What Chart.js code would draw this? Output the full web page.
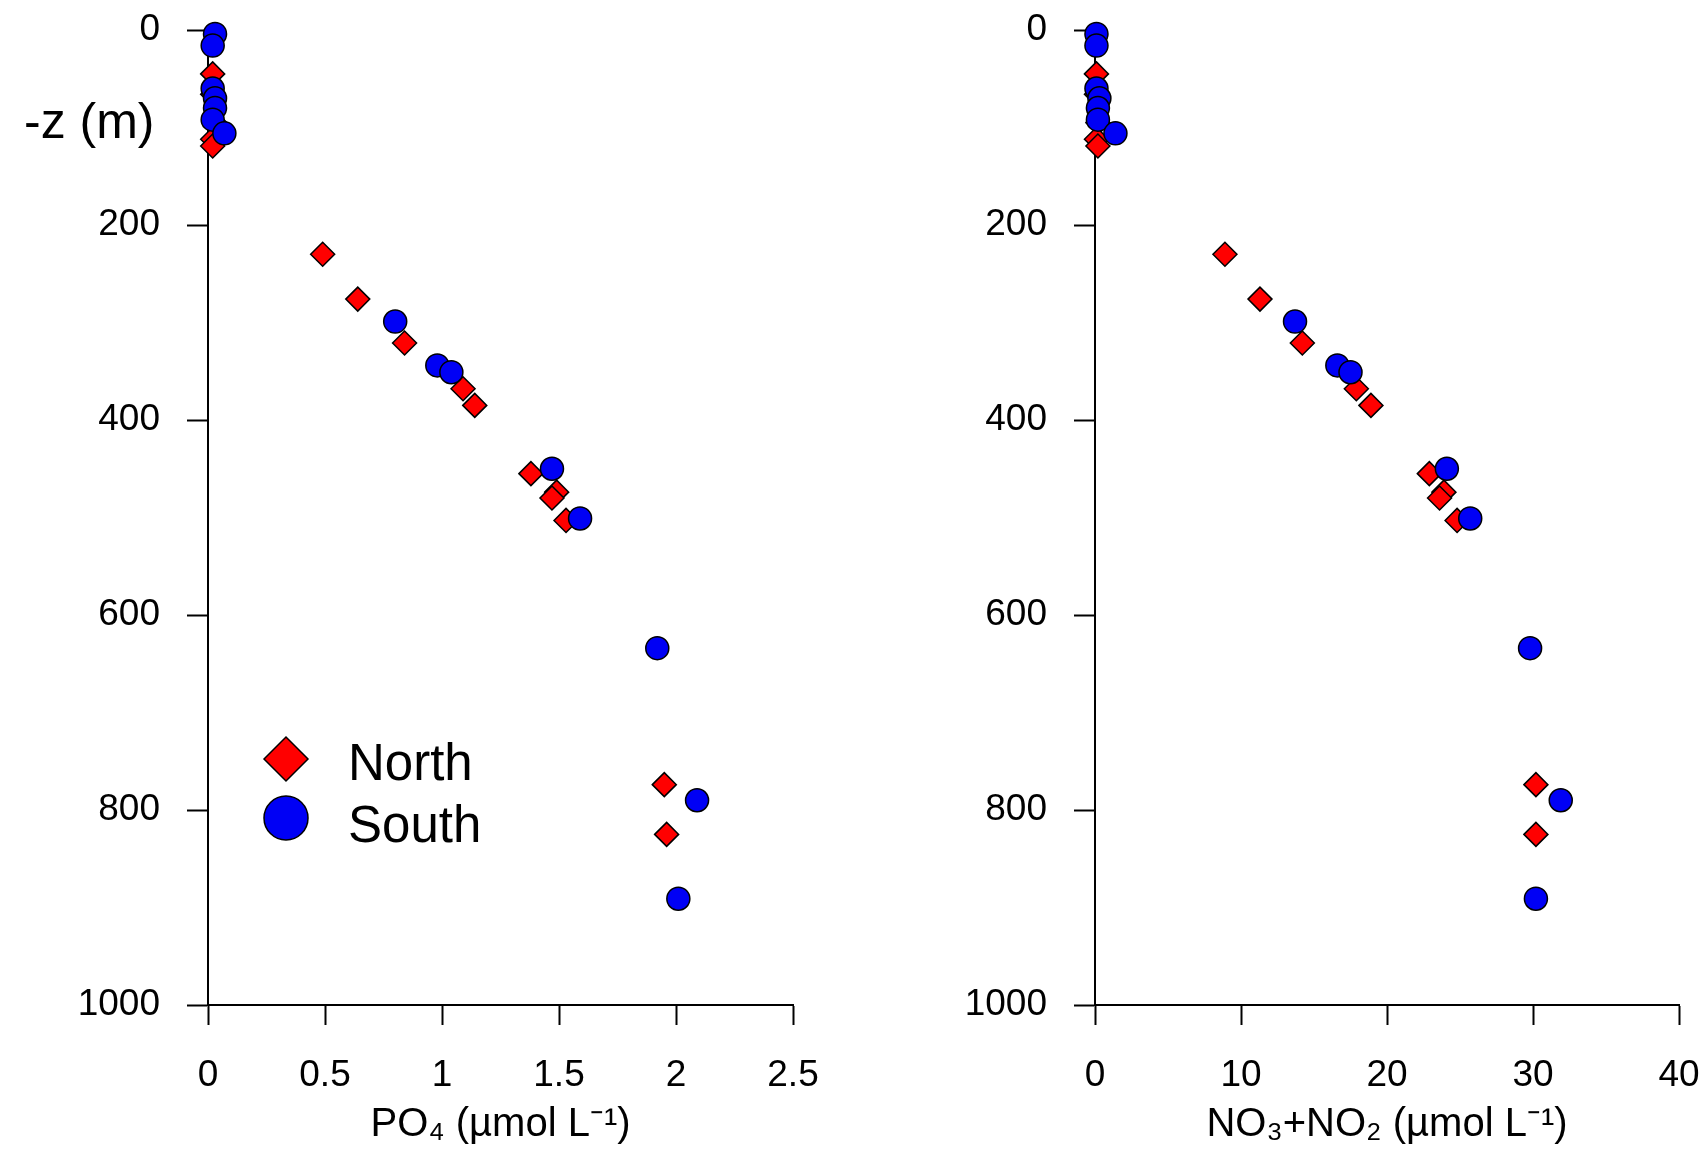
<!DOCTYPE html>
<html>
<head>
<meta charset="utf-8">
<script src="https://cdn.jsdelivr.net/npm/chart.js@4.4.1/dist/chart.umd.min.js"></script>
<style>
  body { margin: 0; background: #fff; width: 1708px; height: 1160px; overflow: hidden; position: relative; }
  canvas { position: absolute; top: 0; }
  #poChart { left: 0; }
  #noChart { left: 880px; }
</style>
</head>
<body>
<canvas id="poChart" width="850" height="1160"></canvas>
<canvas id="noChart" width="828" height="1160"></canvas>
<script>
// station depths (m) and nutrient values
const northDepth = [45, 66, 95, 112, 119, 230, 276, 321, 368, 385, 455, 474, 480, 503, 774, 825];
const northPO4   = [0.02, 0.02, 0.03, 0.02, 0.02, 0.49, 0.64, 0.84, 1.09, 1.14, 1.38, 1.49, 1.47, 1.53, 1.95, 1.96];
const northNOx   = [0.1, 0.1, 0.2, 0.1, 0.2, 8.9, 11.3, 14.2, 17.9, 18.9, 22.9, 23.9, 23.6, 24.8, 30.2, 30.2];

const southDepth = [4, 16, 60, 70, 80, 92, 106, 299, 344, 351, 450, 501, 634, 790, 891];
const southPO4   = [0.03, 0.02, 0.02, 0.03, 0.03, 0.02, 0.07, 0.80, 0.98, 1.04, 1.47, 1.59, 1.92, 2.09, 2.01];
const southNOx   = [0.1, 0.1, 0.1, 0.3, 0.2, 0.2, 1.4, 13.7, 16.6, 17.5, 24.1, 25.7, 29.8, 31.9, 30.2];

const seriesNames = ['North', 'South'];
const depthTicks = [0, 200, 400, 600, 800, 1000];
const po4Ticks = [0, 0.5, 1, 1.5, 2, 2.5];
const noxTicks = [0, 10, 20, 30, 40];

const RED = '#ff0000';
const BLUE = '#0000f5';
const tickFont = { family: "'Liberation Sans', Arial, sans-serif", size: 37 };
const titleFont = { family: "'Liberation Sans', Arial, sans-serif", size: 40 };

function pts(xs, ys) {
  return xs.map((v, i) => ({ x: v, y: ys[i] }));
}

function datasets(northX, southX) {
  return [
    { label: seriesNames[0], data: pts(northX, northDepth), pointStyle: 'rectRot', pointRadius: 12,
      backgroundColor: RED, borderColor: '#000', borderWidth: 1.5, clip: false, order: 2 },
    { label: seriesNames[1], data: pts(southX, southDepth), pointStyle: 'circle', pointRadius: 11.5,
      backgroundColor: BLUE, borderColor: '#000', borderWidth: 1.5, clip: false, order: 1 }
  ];
}

function makeChart(id, northX, southX, xTicks, xTitle, yWidth, padRight, extra) {
  const xMax = xTicks[xTicks.length - 1];
  return new Chart(document.getElementById(id), {
    type: 'scatter',
    data: { datasets: datasets(northX, southX) },
    options: {
      responsive: false,
      animation: false,
      events: [],
      layout: { padding: { top: 30, right: padRight, bottom: 0, left: 0 } },
      plugins: { legend: { display: false }, tooltip: { enabled: false } },
      scales: {
        x: {
          type: 'linear', min: 0, max: xMax,
          afterBuildTicks: s => { s.ticks = xTicks.map(v => ({ value: v })); },
          afterFit: s => { s.height = 155; s.paddingLeft = 0; s.paddingRight = 0; },
          grid: { drawOnChartArea: false, tickLength: 20, tickColor: '#000', tickWidth: 2 },
          border: { color: '#000', width: 2 },
          ticks: { color: '#000', font: tickFont, padding: 29, maxRotation: 0, callback: v => String(v) },
          title: { display: true, text: xTitle, color: '#000', font: titleFont, padding: { top: 0, bottom: 11 } }
        },
        y: {
          type: 'linear', min: 0, max: 1000, reverse: true,
          afterBuildTicks: s => { s.ticks = depthTicks.map(v => ({ value: v })); },
          afterFit: s => { s.width = yWidth; s.paddingTop = 0; s.paddingBottom = 0; },
          grid: { drawOnChartArea: false, tickLength: 21, tickColor: '#000', tickWidth: 2 },
          border: { color: '#000', width: 2 },
          ticks: { color: '#000', font: tickFont, padding: 27, callback: v => String(v) }
        }
      }
    },
    plugins: extra ? [extra] : []
  });
}

// "-z (m)" label and the North/South key, drawn inside the left panel
const legendPlugin = {
  id: 'keyAndLabel',
  afterDraw(chart) {
    const ctx = chart.ctx;
    ctx.save();
    ctx.fillStyle = '#000';
    ctx.textBaseline = 'alphabetic';
    ctx.font = "50px 'Liberation Sans', Arial, sans-serif";
    ctx.fillText('-z (m)', 24, 138);

    const keys = [
      { style: 'rectRot', radius: 22, color: RED, y: 759, base: 780 },
      { style: 'circle', radius: 22, color: BLUE, y: 818, base: 842 }
    ];
    ctx.font = "51px 'Liberation Sans', Arial, sans-serif";
    keys.forEach((k, i) => {
      ctx.fillStyle = k.color;
      ctx.strokeStyle = '#000';
      ctx.lineWidth = 1.5;
      Chart.helpers.drawPoint(ctx, { pointStyle: k.style, radius: k.radius, rotation: 0, borderWidth: 1.5 }, 286, k.y);
      ctx.fillStyle = '#000';
      ctx.fillText(seriesNames[i], 348, k.base);
    });
    ctx.restore();
  }
};

makeChart('poChart', northPO4, southPO4, po4Ticks, 'PO\u2084 (\u00b5mol L\u207b\u00b9)', 208, 57, legendPlugin);
makeChart('noChart', northNOx, southNOx, noxTicks, 'NO\u2083+NO\u2082 (\u00b5mol L\u207b\u00b9)', 215, 29, null);
</script>
</body>
</html>
